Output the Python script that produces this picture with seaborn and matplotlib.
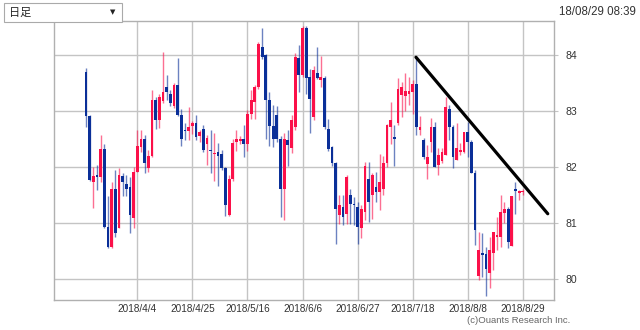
import numpy as np
import pandas as pd
import matplotlib
matplotlib.use("Agg")
import matplotlib.pyplot as plt
from matplotlib.patches import Rectangle
import seaborn as sns

# ---- data ----
open_ = [83.70, 82.91, 81.73, 81.85, 81.81, 82.32, 80.93, 80.56, 81.61, 80.90,
         81.84, 81.70, 81.64, 81.08, 81.90, 82.36, 82.49, 81.97, 82.19, 83.20,
         82.84, 83.17, 83.43, 83.30, 83.08, 83.46, 82.93, 82.66, 82.64, 82.73,
         82.78, 82.55, 82.68, 82.40, 82.30, 82.22, 82.27, 82.22, 81.98, 81.14,
         81.79, 82.44, 82.46, 82.49, 82.40, 82.95, 83.16, 83.43, 84.14, 84.00,
         83.20, 82.73, 82.93, 82.50, 81.61, 82.48, 82.33, 82.72, 83.94, 83.64,
         84.48, 83.61, 82.89, 83.68, 83.55, 83.58, 82.68, 82.35, 82.06, 81.14,
         81.28, 81.16, 81.49, 81.34, 81.28, 80.90, 81.20, 81.79, 81.49, 81.64,
         81.55, 81.60, 82.06, 82.72, 82.53, 82.78, 83.28, 83.27, 83.30, 83.34,
         83.48, 82.66, 82.48, 82.05, 82.45, 82.72, 82.03, 82.10, 82.21, 83.04,
         82.72, 82.12, 82.27, 82.27, 82.63, 82.45, 81.88, 80.04, 80.45, 80.44,
         80.10, 80.45, 80.75, 80.75, 81.18, 81.25, 80.59, 81.59, 81.53, 81.55]
high = [83.76, 82.93, 82.00, 82.03, 82.57, 82.41, 81.47, 81.73, 81.94, 81.97,
        81.88, 81.85, 81.82, 82.00, 82.66, 82.66, 82.57, 82.30, 83.37, 83.25,
        83.30, 84.06, 83.65, 83.37, 83.49, 83.94, 83.04, 82.78, 83.07, 82.82,
        82.93, 82.66, 82.75, 82.57, 82.66, 82.60, 82.42, 82.30, 82.00, 81.85,
        82.50, 82.65, 82.55, 82.74, 83.01, 83.37, 83.46, 84.23, 84.48, 84.02,
        83.33, 83.10, 83.08, 82.55, 82.60, 82.66, 82.93, 84.03, 84.18, 84.52,
        84.52, 83.75, 83.80, 84.14, 83.99, 83.62, 82.86, 82.38, 82.09, 81.50,
        81.50, 81.85, 81.61, 81.46, 81.37, 81.31, 82.08, 82.08, 81.88, 81.91,
        82.22, 82.20, 82.77, 83.16, 82.74, 83.58, 83.52, 83.68, 83.60, 83.55,
        83.97, 82.90, 82.51, 82.39, 82.87, 82.81, 82.33, 82.33, 83.25, 83.10,
        82.75, 82.78, 82.42, 82.63, 82.81, 82.48, 81.94, 80.84, 80.81, 80.57,
        80.75, 80.84, 81.11, 81.50, 81.37, 81.28, 81.47, 81.73, 81.59, 81.60]
low = [82.71, 81.74, 81.26, 81.59, 81.73, 80.90, 80.54, 80.54, 80.75, 80.90,
       81.47, 81.47, 80.82, 80.90, 81.90, 82.27, 81.88, 81.91, 82.18, 82.67,
       82.69, 83.14, 83.20, 83.08, 83.05, 82.90, 82.38, 82.48, 82.48, 82.58,
       82.48, 82.45, 82.27, 82.03, 81.88, 81.74, 81.66, 81.95, 81.12, 81.12,
       81.75, 82.29, 82.40, 82.17, 82.29, 82.86, 82.86, 83.40, 83.93, 82.50,
       82.38, 82.35, 82.44, 81.10, 81.05, 82.02, 82.25, 82.66, 83.34, 83.60,
       83.30, 82.60, 82.83, 83.57, 83.43, 82.68, 82.29, 82.02, 80.62, 80.98,
       80.95, 80.98, 80.98, 80.95, 80.62, 80.72, 81.05, 81.01, 81.07, 81.37,
       81.22, 81.49, 81.99, 82.41, 82.02, 82.74, 82.89, 82.99, 83.10, 82.95,
       82.57, 82.57, 82.14, 81.79, 82.27, 82.00, 81.85, 82.06, 82.21, 82.48,
       81.97, 82.12, 82.21, 82.24, 82.18, 81.88, 80.60, 79.98, 80.03, 79.68,
       79.83, 80.15, 80.51, 80.57, 80.99, 80.54, 80.59, 81.16, 81.40, 81.50]
close = [82.91, 81.76, 81.84, 81.82, 82.31, 80.93, 80.57, 81.61, 80.81, 81.85,
         81.72, 81.61, 81.14, 81.90, 82.37, 82.50, 82.06, 82.19, 83.20, 82.84,
         83.25, 83.34, 83.34, 83.14, 83.46, 82.92, 82.50, 82.64, 82.72, 82.78,
         82.54, 82.62, 82.30, 82.52, 82.28, 82.25, 82.20, 81.98, 81.32, 81.79,
         82.42, 82.49, 82.50, 82.40, 82.95, 83.19, 83.43, 84.20, 83.96, 83.20,
         82.73, 82.50, 82.50, 81.61, 82.50, 82.39, 82.84, 83.97, 83.64, 84.48,
         83.58, 83.22, 83.73, 83.59, 83.61, 82.71, 82.32, 82.06, 81.25, 81.32,
         81.10, 81.82, 81.34, 81.31, 80.92, 81.25, 82.02, 81.37, 81.85, 81.55,
         81.73, 82.06, 82.74, 82.84, 82.50, 83.40, 83.42, 83.36, 83.35, 83.48,
         82.72, 82.72, 82.18, 82.18, 82.72, 82.00, 82.21, 82.27, 83.07, 82.72,
         82.18, 82.33, 82.30, 82.63, 82.45, 81.88, 80.87, 80.52, 80.42, 80.18,
         80.52, 80.84, 80.78, 81.20, 81.25, 80.66, 81.47, 81.57, 81.57, 81.57]

xtick_pos = [14, 29, 44, 59, 74, 89, 104, 119]
xtick_labels = ["2018/4/4", "2018/4/25", "2018/5/16", "2018/6/6",
                "2018/6/27", "2018/7/18", "2018/8/8", "2018/8/29"]
ytick_vals = [80, 81, 82, 83, 84]

trend_x = [89.9, 125.8]
trend_y = [83.96, 81.16]

# ---- style ----
sns.set_theme(style="white")
plt.rcParams["font.family"] = ["Liberation Sans", "DejaVu Sans"]

UP = "#fb1049"
DOWN = "#0a2f98"
GRID = "#c4c4c4"

df = pd.DataFrame({"open": open_, "high": high, "low": low, "close": close})
df["idx"] = np.arange(len(df))
df["up"] = df["close"] >= df["open"]

fig = plt.figure(figsize=(6.4, 3.3), dpi=100)
ax = fig.add_axes([54 / 640, 30 / 330, 500 / 640, 279 / 330])

# grid
for xp in xtick_pos:
    ax.axvline(xp, color=GRID, lw=1.0, zorder=0)
for yv in ytick_vals:
    ax.axhline(yv, color=GRID, lw=1.0, zorder=0)

# wicks
colors = np.where(df["up"], UP, DOWN)
ax.vlines(df["idx"], df["low"], df["high"], colors=colors, lw=1.0, alpha=0.6, zorder=2)

# bodies
bottom = np.minimum(df["open"], df["close"])
height = np.maximum(np.abs(df["close"] - df["open"]), 0.025)
ax.bar(df["idx"], height, bottom=bottom, width=0.76, color=colors, linewidth=0, zorder=3)

# trend line
sns.lineplot(x=trend_x, y=trend_y, ax=ax, color="black", lw=2.3, zorder=4)

ax.set_xlim(-8.7, 127.5)
ax.set_ylim(79.617, 84.608)
ax.set_xticks(xtick_pos)
ax.set_xticklabels(xtick_labels, fontsize=7.2, color="#333333")
ax.set_yticks(ytick_vals)
ax.set_yticklabels([str(v) for v in ytick_vals], fontsize=7.6, color="#333333")
ax.yaxis.tick_right()
ax.tick_params(axis="y", length=3, width=0.8, color=GRID, pad=5)
ax.tick_params(axis="x", length=0, pad=3)
for s in ax.spines.values():
    s.set_color("#b0b0b0")
    s.set_linewidth(1.0)

# header widgets
box = Rectangle((4 / 640, 1 - 22 / 330), 118 / 640, 19 / 330, transform=fig.transFigure,
                facecolor="white", edgecolor="#aaaaaa", lw=0.8)
fig.patches.append(box)
fig.text(9 / 640, 1 - 12.5 / 330, "日足", fontsize=8, color="#222222", va="center",
         family=["Noto Sans CJK JP", "DejaVu Sans"])
fig.text(110 / 640, 1 - 12.5 / 330, "▼", fontsize=5, color="#222222", va="center",
         family=["DejaVu Sans"])
fig.text(636 / 640, 1 - 12 / 330, "18/08/29 08:39", fontsize=8.3, color="#333333",
         ha="right", va="center")
fig.text(570 / 640, 1 - 320.5 / 330, "(c)Ouants Research Inc.", fontsize=6.8,
         color="#666666", ha="right", va="center")

fig.savefig("out.png", dpi=100)
